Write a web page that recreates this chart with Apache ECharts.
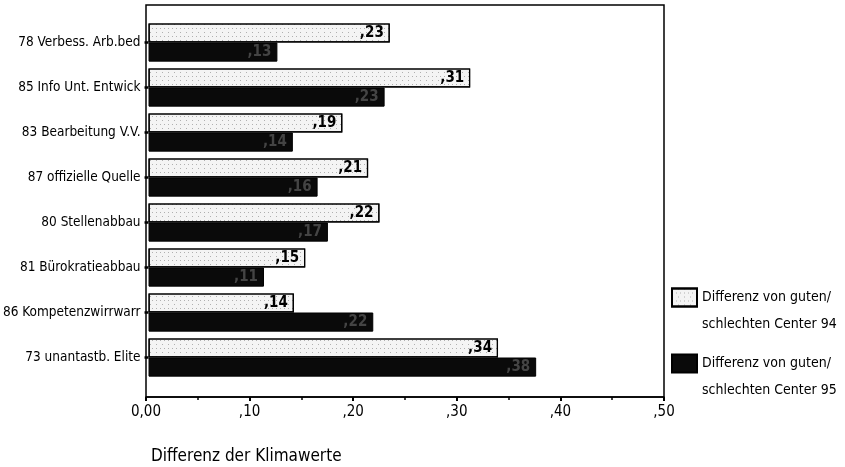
<!DOCTYPE html>
<html>
<head>
<meta charset="utf-8">
<script src="https://cdn.jsdelivr.net/npm/echarts@6/dist/echarts.min.js"></script>
<style>html,body{margin:0;padding:0;background:#fff}#c{width:845px;height:467px}</style>
</head>
<body>
<div id="c"></div>
<script>
const categories = ['78 Verbess. Arb.bed','85 Info Unt. Entwick','83 Bearbeitung V.V.','87 offizielle Quelle','80 Stellenabbau','81 Bürokratieabbau','86 Kompetenzwirrwarr','73 unantastb. Elite'];
const seriesNames = ['Differenz von guten/schlechten Center 94','Differenz von guten/schlechten Center 95'];
const values94 = [0.234, 0.312, 0.188, 0.213, 0.224, 0.152, 0.141, 0.339];
const values95 = [0.125, 0.229, 0.140, 0.164, 0.174, 0.112, 0.218, 0.376];
const xTickLabels = ['0,00', ',10', ',20', ',30', ',40', ',50'];
const axisTitle = 'Differenz der Klimawerte';

const FONT = '"Liberation Sans Narrow", "DejaVu Sans Condensed", "Liberation Sans", Arial, sans-serif';
const chart = echarts.init(document.getElementById('c'), null, {renderer: 'canvas'});
const fmt = p => ',' + Math.round(p.value * 100);
chart.setOption({
  animation: false,
  backgroundColor: '#fff',
  textStyle: {fontFamily: FONT, color: '#000'},
  title: {
    text: axisTitle, left: 146, top: 443,
    textStyle: {fontFamily: FONT, fontSize: 17, fontWeight: 'normal', color: '#000'}
  },
  grid: [
    {left: 146, right: 181, top: 5, bottom: 70, show: true, borderColor: '#000', borderWidth: 1.5, backgroundColor: 'transparent'},
    {left: 146, right: 181, top: 20, bottom: 87}
  ],
  xAxis: [
    {gridIndex: 0, type: 'value', min: 0, max: 0.5, interval: 0.1,
     axisLine: {show: true, lineStyle: {color: '#000', width: 1.5}},
     axisTick: {show: true, length: 4, lineStyle: {color: '#000', width: 2}},
     minorTick: {show: true, splitNumber: 2, length: 3, lineStyle: {color: '#000', width: 1.5}},
     splitLine: {show: false},
     axisLabel: {margin: 8, fontSize: 15, color: '#000', fontFamily: FONT,
       formatter: (v) => xTickLabels[Math.round(v * 10)]}},
    {gridIndex: 1, type: 'value', min: 0, max: 0.5, show: false}
  ],
  yAxis: [
    {gridIndex: 0, type: 'value', show: false},
    {gridIndex: 1, type: 'category', data: categories, inverse: true,
     axisLine: {show: false},
     axisTick: {show: true, alignWithLabel: true, length: 4, lineStyle: {color: '#000', width: 2.5}},
     axisLabel: {margin: 8, fontSize: 13.5, color: '#000', fontFamily: FONT}}
  ],
  legend: {
    orient: 'vertical', left: 666, top: 252, itemGap: -15,
    itemWidth: 25, itemHeight: 18, icon: 'rect',
    formatter: n => ' \n' + n.replace('/', '/\n'),
    textStyle: {fontFamily: FONT, fontSize: 14, color: '#000', lineHeight: 27},
    data: seriesNames
  },
  series: [
    {name: seriesNames[0], type: 'bar', xAxisIndex: 1, yAxisIndex: 1, data: values94,
     barGap: '0%', barCategoryGap: '15%',
     itemStyle: {color: '#f4f4f4', borderColor: '#000', borderWidth: 1.2,
       decal: {symbol: 'rect', symbolSize: 1, color: 'rgba(0,0,0,0.28)', dashArrayX: [[1, 3], [1, 5]], dashArrayY: [1, 3], rotation: 0}},
     label: {show: true, position: 'insideRight', distance: 6, formatter: fmt,
       fontSize: 15, fontWeight: 'bold', color: '#000', fontFamily: FONT}},
    {name: seriesNames[1], type: 'bar', xAxisIndex: 1, yAxisIndex: 1, data: values95,
     barGap: '0%', barCategoryGap: '15%',
     itemStyle: {color: '#0a0a0a', borderColor: '#000', borderWidth: 1},
     label: {show: true, position: 'insideRight', distance: 6, formatter: fmt,
       fontSize: 15, fontWeight: 'bold', color: '#444', fontFamily: FONT}}
  ]
});
</script>
</body>
</html>
